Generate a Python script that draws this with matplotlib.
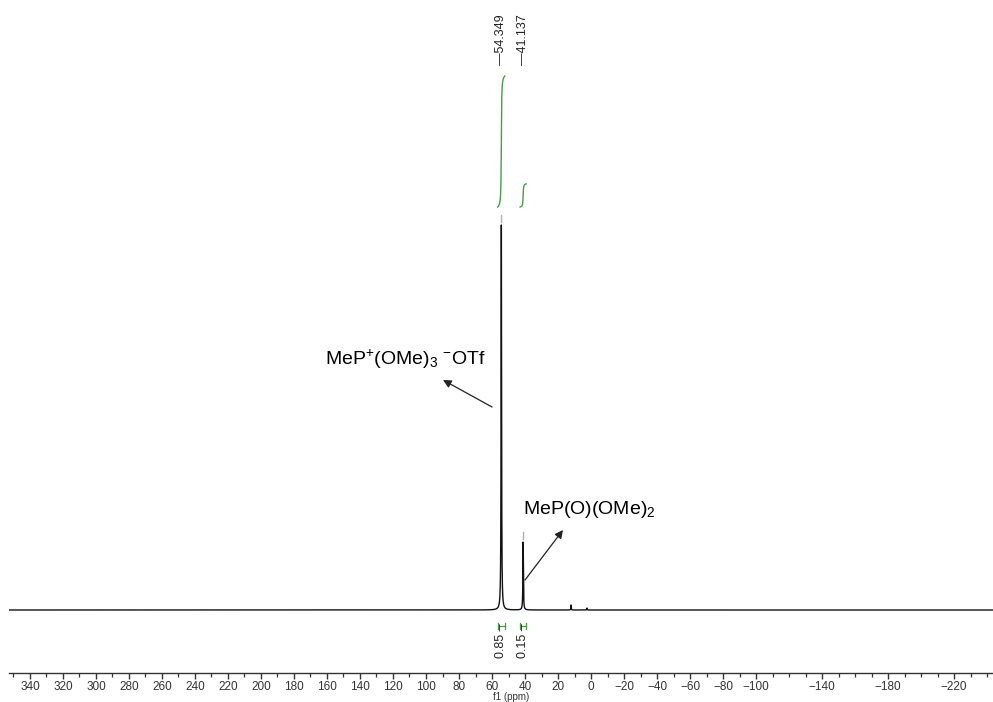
import numpy as np
import matplotlib
matplotlib.use("Agg")
import matplotlib.pyplot as plt

plt.rcParams['font.family'] = ['Liberation Sans', 'DejaVu Sans']
plt.rcParams['mathtext.fontset'] = 'custom'
plt.rcParams['mathtext.rm'] = 'Liberation Sans'
plt.rcParams['mathtext.it'] = 'Liberation Sans:italic'

# 31P spectrum: peak shifts (ppm), relative heights and half widths
peak_ppm = [54.349, 41.137, 12.1, 2.4]
peak_height = [1.0, 0.176, 0.013, 0.005]
peak_hwhm = [0.17, 0.17, 0.12, 0.12]

# picked peaks listed across the top
picked_ppm = [54.349, 41.137]

# integration regions and their values
integral_from = [56.6, 43.0]
integral_to = [52.2, 39.3]
integral_value = [0.85, 0.15]

# axis ticks
tick_ppm = [340, 320, 300, 280, 260, 240, 220, 200, 180, 160, 140, 120, 100,
            80, 60, 40, 20, 0, -20, -40, -60, -80, -100, -140, -180, -220]
tick_labels = ['340', '320', '300', '280', '260', '240', '220', '200', '180',
               '160', '140', '120', '100', '80', '60', '40', '20', '0',
               '\u221220', '\u221240', '\u221260', '\u221280', '\u2212100',
               '\u2212140', '\u2212180', '\u2212220']

# spectrum as a sum of lorentzians
x = np.linspace(353.0, -244.0, 300001)
y = np.zeros_like(x)
for p, h, w in zip(peak_ppm, peak_height, peak_hwhm):
    y += h * w**2 / (w**2 + (x - p)**2)

W, H = 993, 702
fig = plt.figure(figsize=(W / 100, H / 100), dpi=100)
ax = fig.add_axes([9 / W, (H - 673) / H, 1 - 9 / W, 673 / H])

# vertical scale: baseline at 0, tallest peak at 1
def py(pix):
    return (610 - pix) / 385.0

ax.set_xlim(352.7, -243.6)
ax.set_ylim(py(673), py(0))

ax.plot(x, y, color='#111111', lw=1.0)

# picked peak markers and labels
for p in picked_ppm:
    top = y[np.argmin(np.abs(x - p))]
    ax.plot([p, p], [top + 0.008, top + 0.026], color='#b0b0b0', lw=1.0)
    ax.text(p, py(65), '\u2014' + f'{p:.3f}', rotation=90, ha='center',
            va='bottom', fontsize=9, color='#222222')

# integral curves, brackets and values
green = '#4a9a4a'
scale = (207 - 76) / 385.0 / 0.85
for a, b, v in zip(integral_from, integral_to, integral_value):
    m = (x <= a) & (x >= b)
    cum = np.cumsum(y[m])
    cum = cum / cum[-1]
    ax.plot(x[m], py(207) + scale * v * cum, color=green, lw=1.0)
    mid = (a + b) / 2
    ax.plot([a, b], [py(626), py(626)], color=green, lw=0.9)
    ax.plot([a, a], [py(623), py(629)], color=green, lw=0.9)
    ax.plot([b, b], [py(623), py(629)], color=green, lw=0.9)
    ax.text(mid, py(658), f'{v:.2f} \u2013', rotation=90, ha='center',
            va='bottom', fontsize=9, color='#222222')

# compound annotations
ax.text(161.2, py(365), r'MeP$^{+}$(OMe)$_{3}$ $^{-}$OTf', fontsize=14,
        ha='left', va='baseline')
ax.annotate('', xy=(89.7, py(380)), xytext=(60.0, py(407)),
            arrowprops=dict(arrowstyle='-|>', color='#222222', lw=0.9,
                            mutation_scale=12, shrinkA=0, shrinkB=0))
ax.text(41.2, py(514), r'MeP(O)(OMe)$_{2}$', fontsize=14,
        ha='left', va='baseline')
ax.annotate('', xy=(17.0, py(530)), xytext=(40.0, py(580)),
            arrowprops=dict(arrowstyle='-|>', color='#222222', lw=0.9,
                            mutation_scale=12, shrinkA=0, shrinkB=0))

# axis styling
for s in ['top', 'right', 'left']:
    ax.spines[s].set_visible(False)
ax.spines['bottom'].set_color('#333333')
ax.spines['bottom'].set_linewidth(1.0)
ax.set_yticks([])
ax.set_xticks(tick_ppm)
ax.set_xticklabels(tick_labels)
ax.set_xticks(np.arange(350, -241, -10), minor=True)
ax.tick_params(axis='x', which='major', direction='out', length=4, width=1,
               pad=1.5, labelsize=8.5, colors='#333333')
ax.tick_params(axis='x', which='minor', direction='out', length=3, width=0.9,
               colors='#333333')

fig.text(511 / W, 0.0, 'f1 (ppm)', ha='center', va='bottom',
         fontsize=7, color='#333333')

fig.savefig('out.png', dpi=100)
